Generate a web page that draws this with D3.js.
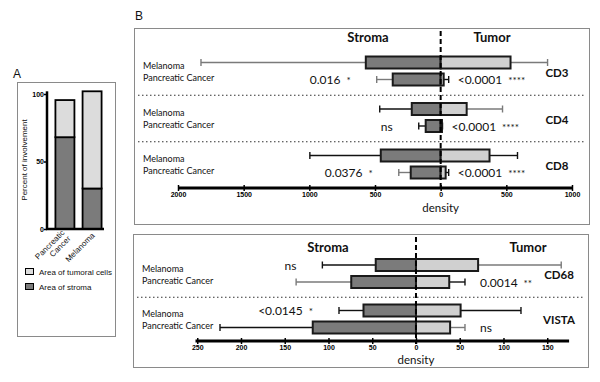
<!DOCTYPE html>
<html>
<head>
<meta charset="utf-8">
<script src="https://cdn.jsdelivr.net/npm/d3@7"></script>
<style>
  body { margin: 0; background: #fff; }
  svg { display: block; }
  text { font-family: Lato, "Open Sans", sans-serif; fill: #111; }
  .tick text { font-family: "Liberation Sans", Arial, sans-serif; font-weight: bold; fill: #000; }
  .tick line, .domain { stroke: #000; }
</style>
</head>
<body>
<svg id="chart" width="600" height="382"></svg>
<script>
// ---- panel A data
const involvementCats = ["Pancreatic Cancer", "Melanoma"];
const stromaArea = [68, 30];
const tumoralArea = [27.5, 72];

// ---- panel B data (density, stroma values drawn to the left)
const tissues = ["Melanoma", "Pancreatic Cancer"];
const markersTop = ["CD3", "CD4", "CD8"];
const stromaTopMel = [570, 220, 456];
const stromaTopMelErr = [1825, 464, 996];
const stromaTopPanc = [365, 114, 228];
const stromaTopPancErr = [487, 167, 319];
const tumorTopMel = [532, 198, 372];
const tumorTopMelErr = [814, 471, 585];
const tumorTopPanc = [23, 10, 38];
const tumorTopPancErr = [61, 14, 61];
const pStromaTop = [["0.016", "*"], ["ns", ""], ["0.0376", "*"]];
const pTumorTop = [["<0.0001", "****"], ["<0.0001", "****"], ["<0.0001", "****"]];
const topTicks = [-2000, -1500, -1000, -500, 0, 500, 1000];

const markersBottom = ["CD68", "VISTA"];
const stromaBotMel = [46, 60];
const stromaBotMelErr = [107, 88];
const stromaBotPanc = [74, 118];
const stromaBotPancErr = [137, 224];
const tumorBotMel = [71, 51];
const tumorBotMelErr = [166, 120];
const tumorBotPanc = [38, 39];
const tumorBotPancErr = [56, 56];
const pStromaBot = [["ns", ""], ["<0.0145", "*"]];
const pTumorBot = [["0.0014", "**"], ["ns", ""]];
const pStromaBotRow = [0, 0];
const pTumorBotRow = [1, 1];
const botTicks = [-250, -200, -150, -100, -50, 0, 50, 100, 150];

const DARK = "#7b7b7b", LIGHT = "#d0d0d0", EDGE = "#1a1a1a";

const svg = d3.select("#chart");

// ================= Panel A =================
svg.append("rect").attr("x", 17.5).attr("y", 82.5).attr("width", 98).attr("height", 254)
  .attr("fill", "none").attr("stroke", "#8a8a8a");
svg.append("text").attr("x", 13).attr("y", 78).text("A")
  .style("font-family", "Liberation Sans, Arial").style("font-size", "12px");

const ya = d3.scaleLinear().domain([0, 100]).range([229, 94]);
const xa = d3.scaleBand().domain(involvementCats).range([47, 110]).paddingInner(0.3).paddingOuter(0.31);

const stackData = involvementCats.map((c, i) => ({ cat: c, stroma: stromaArea[i], tumoral: tumoralArea[i] }));
const stacked = d3.stack().keys(["stroma", "tumoral"])(stackData);
const ga = svg.append("g");
stacked.forEach(layer => {
  ga.selectAll(null).data(layer).enter().append("rect")
    .attr("x", d => xa(d.data.cat))
    .attr("width", xa.bandwidth())
    .attr("y", d => ya(d[1]))
    .attr("height", d => ya(d[0]) - ya(d[1]))
    .attr("fill", layer.key === "stroma" ? DARK : "#dcdcdc")
    .attr("stroke", "#000").attr("stroke-width", 1.8);
});

const yAxisA = svg.append("g").attr("transform", "translate(47,0)")
  .call(d3.axisLeft(ya).tickValues([0, 50, 100]).tickSize(3).tickFormat(d3.format("d")));
yAxisA.select(".domain").attr("stroke-width", 2.5).attr("d", "M0," + (ya(0) + 1) + "V" + (ya(102) ));
yAxisA.selectAll(".tick line").attr("stroke-width", 1.5);
yAxisA.selectAll(".tick text").style("font-size", "7px").attr("x", -3);
svg.append("line").attr("x1", 46).attr("x2", 104).attr("y1", ya(0)).attr("y2", ya(0))
  .attr("stroke", "#000").attr("stroke-width", 2.5);
svg.append("text").attr("transform", "translate(27,160) rotate(-90)")
  .attr("text-anchor", "middle").style("font-size", "8px")
  .style("font-family", "Liberation Sans, Arial").text("Percent of involvement");

// rotated category labels
const xlab = [["Pancreatic", "Cancer"], ["Melanoma"]];
xlab.forEach((lines, i) => {
  const cx = xa(involvementCats[i]) + xa.bandwidth() / 2 + 3;
  const t = svg.append("text")
    .attr("transform", `translate(${cx},${236}) rotate(-45)`)
    .attr("text-anchor", "end")
    .style("font-size", "8px").style("font-family", "Liberation Sans, Arial");
  lines.forEach((l, j) => {
    t.append("tspan").attr("x", 0).attr("dy", j === 0 ? (lines.length > 1 ? -4 : 0) : 8.5).text(l);
  });
});

// legend
const legA = [["Area of tumoral cells", "#dcdcdc"], ["Area of stroma", DARK]];
legA.forEach((d, i) => {
  svg.append("rect").attr("x", 25.5).attr("y", 268.5 + i * 15).attr("width", 8).attr("height", 6)
    .attr("fill", d[1]).attr("stroke", "#000").attr("stroke-width", 1);
  svg.append("text").attr("x", 39).attr("y", 274.5 + i * 15).text(d[0])
    .style("font-size", "8px").style("font-family", "Liberation Sans, Arial");
});

// ================= Panel B =================
svg.append("text").attr("x", 135).attr("y", 20).text("B")
  .style("font-family", "Liberation Sans, Arial").style("font-size", "12px");

const greyWhiskers = new Set(["CD3|0|s", "CD3|0|t", "CD3|1|s", "CD4|0|t", "CD8|1|s",
  "CD68|0|t", "CD68|1|s", "VISTA|1|t"]);

function drawPanel(cfg) {
  const g = svg.append("g");
  g.append("rect").attr("x", cfg.box[0] + 0.5).attr("y", cfg.box[1] + 0.5)
    .attr("width", cfg.box[2]).attr("height", cfg.box[3])
    .attr("fill", "none").attr("stroke", "#8a8a8a");

  const x = d3.scaleLinear().domain(cfg.domain).range(cfg.range);
  const yg = d3.scalePoint().domain(cfg.markers).range(cfg.groupY);
  const rowOff = [-8.5, 8.5];
  const bh = 12;

  // headers
  g.append("text").attr("x", cfg.stromaX).attr("y", cfg.headY).attr("text-anchor", "middle")
    .style("font-weight", "bold").style("font-size", "13px").text("Stroma");
  g.append("text").attr("x", cfg.tumorX).attr("y", cfg.headY).attr("text-anchor", "middle")
    .style("font-weight", "bold").style("font-size", "13px").text("Tumor");

  // separators
  cfg.markers.slice(1).forEach((m, i) => {
    const yy = (yg(cfg.markers[i]) + yg(m)) / 2 + 1;
    g.append("line").attr("x1", cfg.box[0] + 4).attr("x2", cfg.box[0] + cfg.box[2] - 4)
      .attr("y1", yy).attr("y2", yy).attr("stroke", "#333").attr("stroke-width", 1.2)
      .attr("stroke-dasharray", "1.5,2.5");
  });

  cfg.markers.forEach((m, i) => {
    const gy = yg(m);
    // tissue labels
    tissues.forEach((t, r) => {
      g.append("text").attr("x", cfg.box[0] + 9).attr("y", gy - 2 + r * 12)
        .style("font-size", "9px").text(t);
    });
    // marker label
    g.append("text").attr("x", cfg.markerX).attr("y", gy + 4 + cfg.markerDy)
      .attr("text-anchor", "middle").style("font-weight", "bold").style("font-size", "11.5px").text(m);

    const rows = [
      { s: cfg.sMel[i], se: cfg.sMelE[i], t: cfg.tMel[i], te: cfg.tMelE[i] },
      { s: cfg.sPanc[i], se: cfg.sPancE[i], t: cfg.tPanc[i], te: cfg.tPancE[i] }
    ];
    rows.forEach((d, r) => {
      const cy = gy + rowOff[r];
      const sc = greyWhiskers.has(m + "|" + r + "|s") ? "#7a7a7a" : "#111";
      const tc = greyWhiskers.has(m + "|" + r + "|t") ? "#7a7a7a" : "#111";
      // whiskers
      g.append("line").attr("x1", x(-d.se)).attr("x2", x(-d.s)).attr("y1", cy).attr("y2", cy)
        .attr("stroke", sc).attr("stroke-width", 1.4);
      g.append("line").attr("x1", x(-d.se)).attr("x2", x(-d.se)).attr("y1", cy - 3.5).attr("y2", cy + 3.5)
        .attr("stroke", sc).attr("stroke-width", 1.4);
      g.append("line").attr("x1", x(d.t)).attr("x2", x(d.te)).attr("y1", cy).attr("y2", cy)
        .attr("stroke", tc).attr("stroke-width", 1.4);
      g.append("line").attr("x1", x(d.te)).attr("x2", x(d.te)).attr("y1", cy - 3.5).attr("y2", cy + 3.5)
        .attr("stroke", tc).attr("stroke-width", 1.4);
      // bars
      g.append("rect").attr("x", x(-d.s)).attr("y", cy - bh / 2)
        .attr("width", x(0) - x(-d.s)).attr("height", bh)
        .attr("fill", DARK).attr("stroke", EDGE).attr("stroke-width", 2);
      g.append("rect").attr("x", x(0)).attr("y", cy - bh / 2)
        .attr("width", x(d.t) - x(0)).attr("height", bh)
        .attr("fill", LIGHT).attr("stroke", EDGE).attr("stroke-width", 2);
    });

    // p-values
    const sr = cfg.pSRow[i], tr = cfg.pTRow[i];
    const sRow = rows[sr];
    const ps = g.append("text").attr("x", x(-sRow.se) - cfg.pGapS).attr("y", gy + rowOff[sr] + 4.5)
      .attr("text-anchor", "end").style("font-size", "12px");
    ps.append("tspan").text(cfg.pS[i][0]);
    if (cfg.pS[i][1]) ps.append("tspan").attr("dx", 6).style("font-size", "10px").text(cfg.pS[i][1]);
    const tRow = rows[tr];
    const pt = g.append("text").attr("x", x(tRow.te) + cfg.pGapT).attr("y", gy + rowOff[tr] + 4.5)
      .style("font-size", "12px");
    pt.append("tspan").text(cfg.pT[i][0]);
    if (cfg.pT[i][1]) pt.append("tspan").attr("dx", 6).style("font-size", "10px").text(cfg.pT[i][1]);
  });

  // zero dashed line
  g.append("line").attr("x1", x(0)).attr("x2", x(0)).attr("y1", cfg.zeroY[0]).attr("y2", cfg.zeroY[1])
    .attr("stroke", "#000").attr("stroke-width", 2).attr("stroke-dasharray", "5,3");

  // axis
  const ax = g.append("g").attr("transform", `translate(0,${cfg.axisY})`)
    .call(d3.axisBottom(x).tickValues(cfg.ticks).tickSizeInner(3).tickSizeOuter(0)
      .tickFormat(d => Math.abs(d)));
  ax.select(".domain").attr("stroke-width", 3)
    .attr("d", `M${x(cfg.axisEnds[0])},0H${x(cfg.axisEnds[1])}`);
  ax.selectAll(".tick line").attr("y1", -3).attr("y2", 3).attr("stroke-width", 1.5);
  ax.selectAll(".tick text").attr("y", 4).attr("fill", "#000").style("font-size", "7px");
  g.append("text").attr("x", x(0)).attr("y", cfg.densityY).attr("text-anchor", "middle")
    .style("font-size", "11.5px").text("density");
}

drawPanel({
  box: [134, 28, 455, 196],
  domain: [-2000, 1000], range: [178, 572],
  markers: markersTop, groupY: [71, 164],
  sMel: stromaTopMel, sMelE: stromaTopMelErr, sPanc: stromaTopPanc, sPancE: stromaTopPancErr,
  tMel: tumorTopMel, tMelE: tumorTopMelErr, tPanc: tumorTopPanc, tPancE: tumorTopPancErr,
  pS: pStromaTop, pT: pTumorTop, pSRow: [1, 1, 1], pTRow: [1, 1, 1], pGapS: 26, pGapT: 9,
  stromaX: 368, tumorX: 492, headY: 42, markerX: 557, markerDy: 2,
  zeroY: [31, 190], axisY: 188, ticks: topTicks, axisEnds: [-2000, 1000], densityY: 212
});

drawPanel({
  box: [133, 234, 455, 133],
  domain: [-250, 175], range: [197.25, 569.1],
  markers: markersBottom, groupY: [273.5, 319],
  sMel: stromaBotMel, sMelE: stromaBotMelErr, sPanc: stromaBotPanc, sPancE: stromaBotPancErr,
  tMel: tumorBotMel, tMelE: tumorBotMelErr, tPanc: tumorBotPanc, tPancE: tumorBotPancErr,
  pS: pStromaBot, pT: pTumorBot, pSRow: pStromaBotRow, pTRow: pTumorBotRow, pGapS: 26, pGapT: 15,
  stromaX: 328, tumorX: 528, headY: 252, markerX: 559, markerDy: 1,
  zeroY: [237, 344], axisY: 341, ticks: botTicks, axisEnds: [-252, 175], densityY: 364
});
</script>
</body>
</html>
